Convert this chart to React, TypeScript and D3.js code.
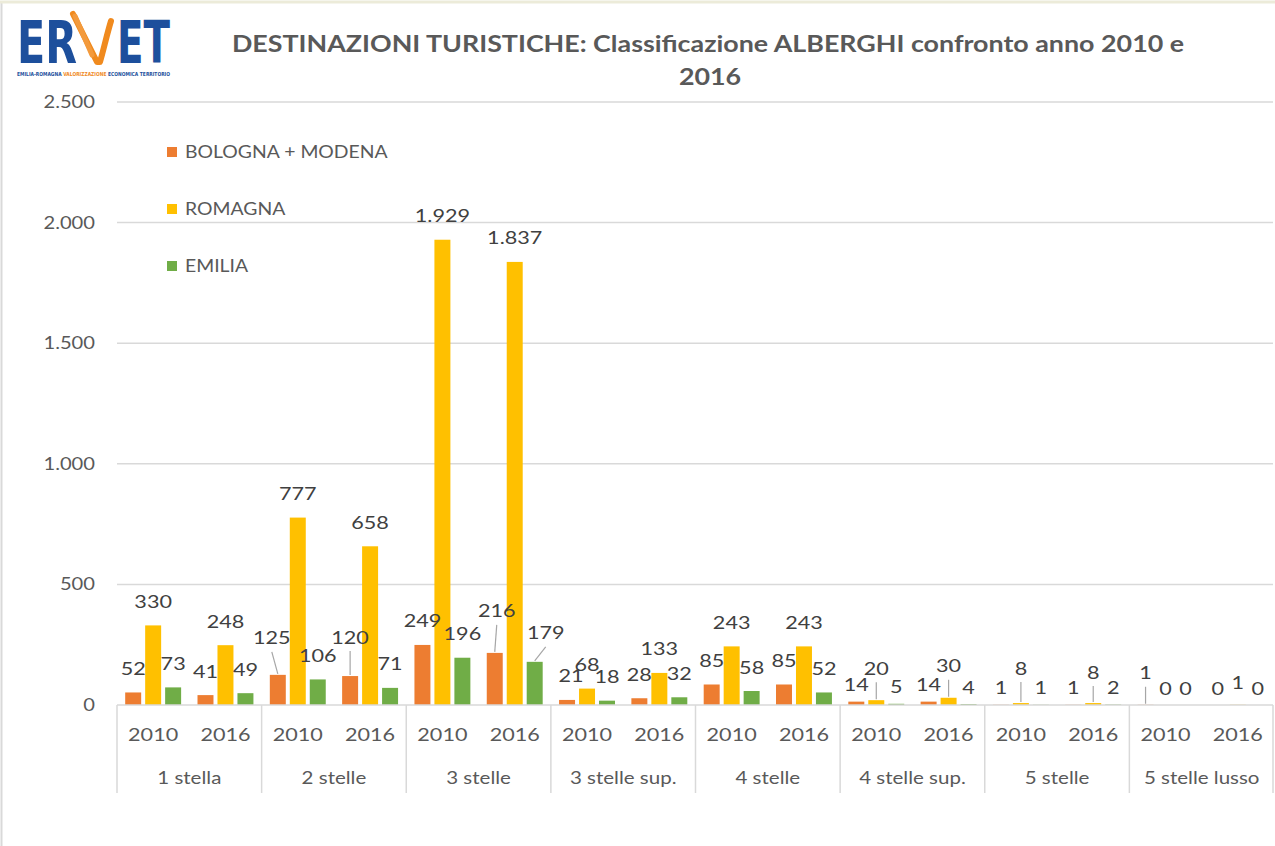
import React from "react";
import * as d3 from "d3";

const categories = ["1 stella", "2 stelle", "3 stelle", "3 stelle sup.", "4 stelle", "4 stelle sup.", "5 stelle", "5 stelle lusso"];
const years = ["2010", "2016"];
const seriesNames = ["BOLOGNA + MODENA", "ROMAGNA", "EMILIA"];
const seriesColors = ["#ED7D31", "#FFC000", "#70AD47"];

// values per category: [2010, 2016]
const bolognaModena = [[52, 41], [125, 120], [249, 216], [21, 28], [85, 85], [14, 14], [1, 1], [1, 0]];
const romagna = [[330, 248], [777, 658], [1929, 1837], [68, 133], [243, 243], [20, 30], [8, 8], [0, 1]];
const emilia = [[73, 49], [106, 71], [196, 179], [18, 32], [58, 52], [5, 4], [1, 2], [0, 0]];
const yTicks = [0, 500, 1000, 1500, 2000, 2500];

// label adjustments imitating the spreadsheet's label placement
const labelNudges = [
  { cat: "2 stelle", year: "2010", s: 0, dx: -6, dy: -13, leader: true },
  { cat: "2 stelle", year: "2016", s: 0, dx: 0, dy: -15, leader: true },
  { cat: "3 stelle", year: "2016", s: 0, dx: 2, dy: -18, leader: true },
  { cat: "3 stelle", year: "2016", s: 2, dx: 11, dy: -5, leader: true },
  { cat: "3 stelle sup.", year: "2010", s: 0, dx: 4, dy: 0, leader: false },
  { cat: "4 stelle sup.", year: "2010", s: 1, dx: 0, dy: -8, leader: true },
  { cat: "4 stelle sup.", year: "2016", s: 1, dx: 0, dy: -8, leader: true },
  { cat: "5 stelle", year: "2010", s: 1, dx: 0, dy: -18, leader: true },
  { cat: "5 stelle", year: "2016", s: 1, dx: 0, dy: -14, leader: true },
  { cat: "5 stelle lusso", year: "2010", s: 0, dx: 0, dy: -15, leader: true },
  { cat: "5 stelle lusso", year: "2016", s: 1, dx: 0, dy: -5, leader: false },
];

const FONT = "Lato, Calibri, 'Open Sans', sans-serif";
const TXT = "#595959";

const itFormat = d3.formatLocale({ decimal: ",", thousands: ".", grouping: [3], currency: ["€", ""] }).format(",d");

function T({ x, y, sx = 1.15, size = 18, anchor = "start", weight = "normal", fill = TXT, children }: any) {
  return (
    <text transform={`translate(${x},${y}) scale(${sx},1)`} textAnchor={anchor} fontFamily={FONT} fontSize={size} fontWeight={weight} fill={fill}>
      {children}
    </text>
  );
}

export default function App() {
  const W = 1275, H = 846;
  const left = 117, right = 1274, y0 = 705, yTop = 102;
  const seriesData = [bolognaModena, romagna, emilia];

  const xCat = d3.scaleBand<string>().domain(categories).range([left, right]);
  const xYear = d3.scaleBand<string>().domain(years).range([0, xCat.bandwidth()]);
  const xSer = d3.scaleBand<number>().domain([0, 1, 2]).range([0, xYear.bandwidth()]).paddingInner(0.2).paddingOuter(0.41);
  const y = d3.scaleLinear().domain([0, 2500]).range([y0, yTop]);

  const bars: any[] = [];
  categories.forEach((c, ci) => {
    years.forEach((yr, yi) => {
      seriesData.forEach((sd, si) => {
        const v = sd[ci][yi];
        const x = (xCat(c) as number) + (xYear(yr) as number) + (xSer(si) as number);
        bars.push({ c, yr, si, v, x, w: xSer.bandwidth(), top: y(v) });
      });
    });
  });

  return (
    <svg width={W} height={H} style={{ display: "block", position: "absolute", left: 0, top: 0, background: "#fff" }}>
      <rect x={0} y={0} width={W} height={H} fill="#fff" />
      <line x1={1.5} y1={2} x2={1.5} y2={H} stroke="#d9d9d9" strokeWidth={2} />
      <line x1={0} y1={2} x2={W} y2={2} stroke="#ecebd9" strokeWidth={3} />

      {/* Logo */}
      <g>
        <text x={17} y={63} fontFamily="'DejaVu Sans', sans-serif" fontWeight="bold" fontSize={58} fill="#1d4f9c" textLength={60} lengthAdjust="spacingAndGlyphs">ER</text>
        <path d="M73,14 C80,28 90,48 97,62 L100,62 C104,48 107,34 111,21" fill="none" stroke="#f08a1e" strokeWidth={6} strokeLinejoin="round" strokeLinecap="round" />
        <path d="M75,16 L92,55" fill="none" stroke="#f39a3c" strokeWidth={5} strokeLinecap="round" />
        <text x={117} y={63} fontFamily="'DejaVu Sans', sans-serif" fontWeight="bold" fontSize={58} fill="#1d4f9c" textLength={53} lengthAdjust="spacingAndGlyphs">ET</text>
        <text x={17} y={76} fontFamily="'DejaVu Sans', sans-serif" fontWeight="bold" fontSize={5.5} textLength={153} lengthAdjust="spacingAndGlyphs">
          <tspan fill="#1d4f9c">EMILIA-ROMAGNA </tspan>
          <tspan fill="#f08a1e">VALORIZZAZIONE </tspan>
          <tspan fill="#1d4f9c">ECONOMICA TERRITORIO</tspan>
        </text>
      </g>

      {/* Title */}
      <T x={708} y={52} sx={1.22} size={22} anchor="middle" weight="bold">
        DESTINAZIONI TURISTICHE: Classificazione ALBERGHI confronto anno 2010 e
      </T>
      <T x={710} y={85} sx={1.22} size={22} anchor="middle" weight="bold">2016</T>

      {/* gridlines + y ticks */}
      {yTicks.map((t) => (
        <g key={t}>
          {t > 0 && <line x1={left} x2={right - 1} y1={y(t)} y2={y(t)} stroke="#d9d9d9" strokeWidth={1.5} />}
          <T x={95} y={y(t) + 6} sx={1.12} anchor="end">{itFormat(t)}</T>
        </g>
      ))}

      {/* bars */}
      {bars.map((b, i) => (
        <rect key={i} x={b.x} y={b.top} width={b.w} height={y0 - b.top} fill={seriesColors[b.si]} />
      ))}

      {/* category axis */}
      <line x1={left} x2={right - 1} y1={y0} y2={y0} stroke="#d9d9d9" strokeWidth={1.5} />
      {[...categories.map((c) => xCat(c) as number), right - 1].map((x, i) => (
        <line key={i} x1={x} x2={x} y1={y0} y2={793} stroke="#d9d9d9" strokeWidth={1.5} />
      ))}
      {categories.map((c) => (
        <g key={c}>
          {years.map((yr) => (
            <T key={yr} x={(xCat(c) as number) + (xYear(yr) as number) + xYear.bandwidth() / 2} y={741} sx={1.2} anchor="middle">{yr}</T>
          ))}
          <T x={(xCat(c) as number) + xCat.bandwidth() / 2} y={784} sx={1.14} anchor="middle">{c}</T>
        </g>
      ))}

      {/* data labels */}
      {bars.map((b, i) => {
        const cx = b.x + b.w / 2;
        const base = b.v < 16 ? b.top - 17 : b.top - 24;
        const n = labelNudges.find((o) => o.cat === b.c && o.year === b.yr && o.s === b.si);
        const lx = cx + (n ? n.dx : 0);
        const ly = base + (n ? n.dy : 0);
        const showLeader = n && n.leader && b.top - 1 > ly + 14;
        return (
          <g key={"l" + i}>
            {showLeader && <line x1={lx} y1={ly + 14} x2={cx} y2={b.top - 1} stroke="#a6a6a6" strokeWidth={1.2} />}
            <T x={lx} y={ly + 6.5} sx={1.2} anchor="middle" fill="#404040">{itFormat(b.v)}</T>
          </g>
        );
      })}

      {/* legend */}
      {seriesNames.map((s, i) => (
        <g key={s}>
          <rect x={167} y={152 + i * 57 - 5} width={10} height={10} fill={seriesColors[i]} />
          <T x={185} y={152 + i * 57 + 6} sx={1.14} size={17}>{s}</T>
        </g>
      ))}
    </svg>
  );
}
